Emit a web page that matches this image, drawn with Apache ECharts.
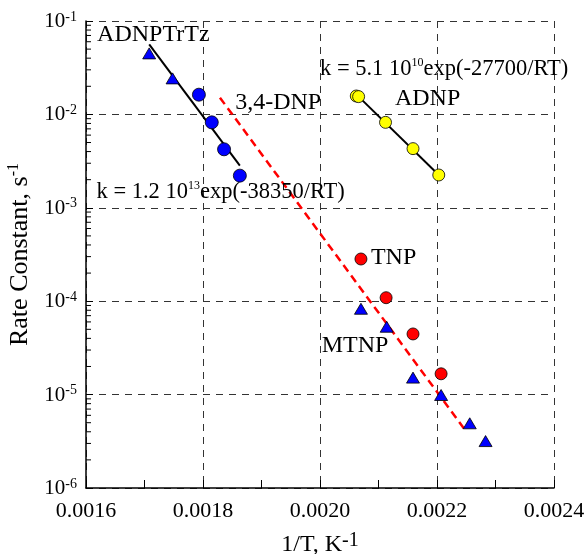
<!DOCTYPE html>
<html>
<head>
<meta charset="utf-8">
<script src="https://cdn.jsdelivr.net/npm/echarts@6/dist/echarts.min.js"></script>
<style>html,body{margin:0;padding:0;background:#fff;}#c{width:586px;height:554px;}</style>
</head>
<body>
<div id="c"></div>
<script>
// ---- data ----
var adnptrtzTriX = [0.001708, 0.001748];
var adnptrtzTriY = [0.045, 0.0243];
var adnptrtzCircX = [0.001793, 0.001815, 0.001836, 0.001863];
var adnptrtzCircY = [0.01626, 0.00822, 0.00423, 0.00221];
var adnptrtzFitX = [0.001708, 0.001863];
var adnptrtzFitY = [0.0562, 0.002826];
var adnpX = [0.002062, 0.002066, 0.002112, 0.002159, 0.002203];
var adnpY = [0.01574, 0.0155, 0.00822, 0.0043, 0.002245];
var adnpFitX = [0.002066, 0.002203];
var adnpFitY = [0.0155, 0.002245];
var tnpX = [0.00207, 0.002113, 0.002159, 0.002207];
var tnpY = [2.83e-4, 1.09e-4, 4.46e-5, 1.67e-5];
var mtnpX = [0.00207, 0.002114, 0.002159, 0.002207, 0.002256, 0.002283];
var mtnpY = [8.3e-5, 5.33e-5, 1.52e-5, 9.9e-6, 4.93e-6, 3.18e-6];
var dnpFitX = [0.001829, 0.002248];
var dnpFitY = [0.0151, 4.18e-6];
// annotations
var annotText = ['{t|ADNPTrTz}', '{e|k = 5.1 10}{s|10}{e|exp(-27700/RT)}', '{t|3,4-DNP}', '{t|ADNP}',
                 '{e|k = 1.2 10}{s|13}{e|exp(-38350/RT)}', '{t|TNP}', '{t|MTNP}'];
var annotX = [0.001619, 0.002, 0.001855, 0.002128, 0.001618, 0.002087, 0.002003];
var annotY = [0.0716, 0.0306, 0.01324, 0.01473, 0.001476, 2.9e-4, 3.31e-5];
// axes
var xMin = 0.0016, xMax = 0.0024, xInterval = 0.0002;
var yMin = 1e-6, yMax = 1e-1;
var yMinorMult = [2, 3, 4, 5, 6, 7, 8, 9];
var yDecades = [-6, -5, -4, -3, -2];

function zip(a, b) { return a.map(function (v, i) { return [v, b[i]]; }); }

var FONT = 'Liberation Serif';
var minorTickData = [];
yDecades.forEach(function (d) {
  yMinorMult.forEach(function (m) { minorTickData.push([xMin, m * Math.pow(10, d)]); });
});

var chart = echarts.init(document.getElementById('c'), null, { renderer: 'canvas' });
var option = {
  backgroundColor: '#fff',
  animation: false,
  grid: { left: 86, right: 32, top: 21, bottom: 66, containLabel: false, outerBoundsMode: 'none' },
  xAxis: {
    type: 'value', min: xMin, max: xMax, interval: xInterval,
    name: '{n|1/T, K}{s|-1}', nameLocation: 'middle', nameGap: 43,
    nameTextStyle: {
      rich: {
        n: { fontFamily: FONT, fontSize: 24, color: '#000', verticalAlign: 'bottom', lineHeight: 26 },
        s: { fontFamily: FONT, fontSize: 20, color: '#000', verticalAlign: 'top', lineHeight: 18 }
      }
    },
    axisLine: { show: true, lineStyle: { color: '#000', width: 1.5 } },
    axisTick: { show: true, inside: true, length: 8, lineStyle: { color: '#000' } },
    minorTick: { show: true, splitNumber: 2, length: 8, lineStyle: { color: '#000' } },
    axisLabel: {
      margin: 12, color: '#000', fontFamily: FONT, fontSize: 22,
      formatter: function (v) { return v.toFixed(4); }
    },
    splitLine: { show: true, lineStyle: { color: '#333', type: [7, 6], width: 1 } }
  },
  yAxis: {
    type: 'log', logBase: 10, min: yMin, max: yMax,
    name: '{n|Rate Constant, s}{s|-1}', nameLocation: 'middle', nameGap: 50, nameRotate: 90,
    nameTextStyle: {
      rich: {
        n: { fontFamily: FONT, fontSize: 26, color: '#000', verticalAlign: 'bottom', lineHeight: 28 },
        s: { fontFamily: FONT, fontSize: 16, color: '#000', verticalAlign: 'top', lineHeight: 16 }
      }
    },
    axisLine: { show: true, lineStyle: { color: '#000', width: 1.5 } },
    axisTick: { show: true, inside: true, length: 7, lineStyle: { color: '#000' } },
    axisLabel: {
      margin: 9, color: '#000',
      formatter: function (v) {
        var e = Math.round(Math.log10(v));
        return '{b|10}{s|' + e + '}';
      },
      rich: {
        b: { fontFamily: FONT, fontSize: 21, color: '#000', verticalAlign: 'bottom', lineHeight: 22 },
        s: { fontFamily: FONT, fontSize: 14, color: '#000', verticalAlign: 'top', lineHeight: 14 }
      }
    },
    splitLine: { show: true, lineStyle: { color: '#333', type: [7, 6], width: 1 } }
  },
  series: [
    {
      type: 'custom', silent: true, z: 3,
      data: minorTickData,
      renderItem: function (params, api) {
        var p = api.coord([api.value(0), api.value(1)]);
        return { type: 'line', shape: { x1: p[0], y1: p[1], x2: p[0] + 5, y2: p[1] },
                 style: { stroke: '#000', lineWidth: 1 } };
      }
    },
    { type: 'line', data: zip(dnpFitX, dnpFitY), showSymbol: false, symbol: 'none', z: 2,
      lineStyle: { color: '#ff0000', width: 2.5, type: [8, 5] } },
    { type: 'line', data: zip(adnptrtzFitX, adnptrtzFitY), symbol: 'none', z: 2,
      lineStyle: { color: '#000', width: 2 } },
    { type: 'line', data: zip(adnpFitX, adnpFitY), symbol: 'none', z: 2,
      lineStyle: { color: '#000', width: 2 } },
    { type: 'scatter', data: zip(adnptrtzTriX, adnptrtzTriY), symbol: 'triangle', symbolSize: [13, 11], z: 4,
      itemStyle: { color: '#0000ff', borderColor: '#000', borderWidth: 0.8, opacity: 1 } },
    { type: 'scatter', data: zip(adnptrtzCircX, adnptrtzCircY), symbol: 'circle', symbolSize: 13, z: 4,
      itemStyle: { color: '#0000ff', borderColor: '#000', borderWidth: 0.8, opacity: 1 } },
    { type: 'scatter', data: zip(adnpX, adnpY), symbol: 'circle', symbolSize: 12, z: 4,
      itemStyle: { color: '#ffff00', borderColor: '#000', borderWidth: 0.8, opacity: 1 } },
    { type: 'scatter', data: zip(tnpX, tnpY), symbol: 'circle', symbolSize: 12, z: 4,
      itemStyle: { color: '#ff0000', borderColor: '#000', borderWidth: 0.8, opacity: 1 } },
    { type: 'scatter', data: zip(mtnpX, mtnpY), symbol: 'triangle', symbolSize: [13, 11], z: 4,
      itemStyle: { color: '#0000ff', borderColor: '#000', borderWidth: 0.8, opacity: 1 } },
    {
      type: 'scatter', symbolSize: 0, z: 5, silent: true,
      itemStyle: { opacity: 1 },
      data: annotX.map(function (x, i) { return { value: [x, annotY[i]], text: annotText[i] }; }),
      label: {
        show: true, position: 'right', distance: 0, color: '#000', opacity: 1,
        textBorderWidth: 0, fontFamily: FONT,
        formatter: function (p) { return p.data.text; },
        rich: {
          t: { fontFamily: FONT, fontSize: 24, color: '#000', verticalAlign: 'bottom', lineHeight: 24 },
          e: { fontFamily: FONT, fontSize: 22.5, color: '#000', verticalAlign: 'bottom', lineHeight: 24 },
          s: { fontFamily: FONT, fontSize: 12, color: '#000', verticalAlign: 'top', lineHeight: 12 }
        }
      }
    }
  ]
};
chart.setOption(option);
</script>
</body>
</html>
